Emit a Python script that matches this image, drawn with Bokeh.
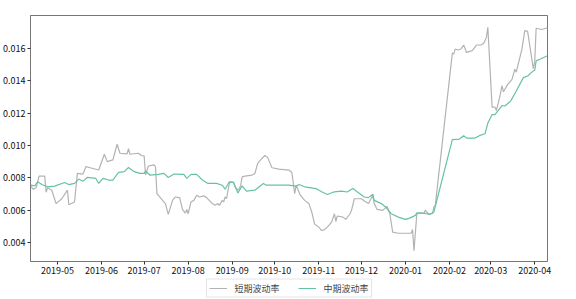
import pandas as pd
from bokeh.plotting import figure
from bokeh.layouts import column
from bokeh.models import (Legend, LegendItem, DatetimeTickFormatter, MonthsTicker,
                          FixedTicker, NumeralTickFormatter, Range1d)
from bokeh.embed import file_html
from bokeh.resources import INLINE

short_dates = [
    "2019-04-12", "2019-04-14", "2019-04-16", "2019-04-18", "2019-04-22", "2019-04-23",
    "2019-04-24", "2019-04-27", "2019-04-30", "2019-05-04", "2019-05-08", "2019-05-09",
    "2019-05-13", "2019-05-15", "2019-05-19", "2019-05-21", "2019-05-24", "2019-05-30",
    "2019-06-03", "2019-06-05", "2019-06-09", "2019-06-12", "2019-06-14", "2019-06-19",
    "2019-06-20", "2019-06-21", "2019-06-27", "2019-06-29", "2019-07-01", "2019-07-02",
    "2019-07-04", "2019-07-08", "2019-07-09", "2019-07-10", "2019-07-14", "2019-07-16",
    "2019-07-18", "2019-07-21", "2019-07-23", "2019-07-26", "2019-07-28", "2019-07-30",
    "2019-07-31", "2019-08-01", "2019-08-03", "2019-08-05", "2019-08-07", "2019-08-09",
    "2019-08-12", "2019-08-14", "2019-08-18", "2019-08-20", "2019-08-22", "2019-08-23",
    "2019-08-25", "2019-08-26", "2019-08-27", "2019-08-28", "2019-08-30", "2019-08-31",
    "2019-09-02", "2019-09-03", "2019-09-05", "2019-09-06", "2019-09-07", "2019-09-08",
    "2019-09-10", "2019-09-15", "2019-09-17", "2019-09-19", "2019-09-21", "2019-09-24",
    "2019-09-26", "2019-09-29", "2019-10-04", "2019-10-11", "2019-10-13", "2019-10-15",
    "2019-10-16", "2019-10-19", "2019-10-22", "2019-10-25", "2019-10-27", "2019-10-29",
    "2019-11-01", "2019-11-03", "2019-11-05", "2019-11-07", "2019-11-10", "2019-11-12",
    "2019-11-13", "2019-11-14", "2019-11-18", "2019-11-20", "2019-11-23", "2019-11-24",
    "2019-11-26", "2019-12-01", "2019-12-03", "2019-12-06", "2019-12-09", "2019-12-10",
    "2019-12-12", "2019-12-16", "2019-12-19", "2019-12-21", "2019-12-23", "2019-12-27",
    "2020-01-05", "2020-01-06", "2020-01-07", "2020-01-09", "2020-01-14", "2020-01-15",
    "2020-01-17", "2020-01-20", "2020-01-21", "2020-01-22", "2020-02-03", "2020-02-04",
    "2020-02-05", "2020-02-07", "2020-02-09", "2020-02-11", "2020-02-13", "2020-02-17",
    "2020-02-20", "2020-02-23", "2020-02-25", "2020-02-27", "2020-02-28", "2020-03-02",
    "2020-03-04", "2020-03-05", "2020-03-07", "2020-03-09", "2020-03-10", "2020-03-13",
    "2020-03-16", "2020-03-18", "2020-03-19", "2020-03-23", "2020-03-25", "2020-03-27",
    "2020-03-31", "2020-04-01", "2020-04-02", "2020-04-06", "2020-04-10",
]
short_vol = [
    0.00748, 0.00729, 0.00738, 0.00810, 0.00810, 0.00710,
    0.00738, 0.00723, 0.00640, 0.00670, 0.00723, 0.00633,
    0.00650, 0.00827, 0.00823, 0.00869, 0.00862, 0.00848,
    0.00946, 0.00900, 0.00911, 0.01008, 0.00952, 0.00948,
    0.00980, 0.00946, 0.00952, 0.00938, 0.00936, 0.00817,
    0.00873, 0.00880, 0.00869, 0.00702, 0.00660, 0.00640,
    0.00573, 0.00660, 0.00681, 0.00677, 0.00604, 0.00581,
    0.00604, 0.00577, 0.00650, 0.00660, 0.00692, 0.00681,
    0.00688, 0.00677, 0.00640, 0.00629, 0.00640, 0.00629,
    0.00660, 0.00650, 0.00681, 0.00670, 0.00765, 0.00775,
    0.00771, 0.00744, 0.00723, 0.00733, 0.00754, 0.00806,
    0.00810, 0.00817, 0.00827, 0.00890, 0.00911, 0.00938,
    0.00925, 0.00862, 0.00854, 0.00848, 0.00833, 0.00702,
    0.00754, 0.00692, 0.00660, 0.00640, 0.00588, 0.00514,
    0.00494, 0.00473, 0.00479, 0.00494, 0.00525, 0.00577,
    0.00529, 0.00563, 0.00556, 0.00542, 0.00577, 0.00598,
    0.00670, 0.00670, 0.00656, 0.00640, 0.00692, 0.00640,
    0.00604, 0.00598, 0.00623, 0.00577, 0.00463, 0.00456,
    0.00456, 0.00479, 0.00348, 0.00577, 0.00581, 0.00598,
    0.00577, 0.00577, 0.00619, 0.00629, 0.01573, 0.01567,
    0.01598, 0.01592, 0.01598, 0.01623, 0.01577, 0.01588,
    0.01623, 0.01623, 0.01633, 0.01670, 0.01733, 0.01238,
    0.01238, 0.01217, 0.01286, 0.01371, 0.01333, 0.01379,
    0.01410, 0.01473, 0.01455, 0.01598, 0.01712, 0.01708,
    0.01477, 0.01520, 0.01727, 0.01719, 0.01730,
]

mid_dates = [
    "2019-04-12", "2019-04-15", "2019-04-17", "2019-04-20", "2019-04-24", "2019-04-29",
    "2019-05-06", "2019-05-09", "2019-05-13", "2019-05-16", "2019-05-19", "2019-05-22",
    "2019-05-28", "2019-05-30", "2019-06-02", "2019-06-06", "2019-06-09", "2019-06-13",
    "2019-06-17", "2019-06-20", "2019-06-24", "2019-06-28", "2019-07-01", "2019-07-02",
    "2019-07-05", "2019-07-11", "2019-07-15", "2019-07-18", "2019-07-22", "2019-07-29",
    "2019-07-31", "2019-08-03", "2019-08-07", "2019-08-11", "2019-08-15", "2019-08-21",
    "2019-08-25", "2019-08-27", "2019-08-30", "2019-09-02", "2019-09-05", "2019-09-08",
    "2019-09-11", "2019-09-17", "2019-09-20", "2019-09-23", "2019-09-25", "2019-09-30",
    "2019-10-11", "2019-10-16", "2019-10-18", "2019-10-22", "2019-10-30", "2019-11-03",
    "2019-11-07", "2019-11-12", "2019-11-17", "2019-11-21", "2019-11-25", "2019-11-28",
    "2019-12-03", "2019-12-06", "2019-12-09", "2019-12-10", "2019-12-15", "2019-12-18",
    "2019-12-22", "2019-12-27", "2020-01-01", "2020-01-04", "2020-01-08", "2020-01-09",
    "2020-01-12", "2020-01-16", "2020-01-18", "2020-01-21", "2020-02-03", "2020-02-08",
    "2020-02-11", "2020-02-13", "2020-02-19", "2020-02-22", "2020-02-26", "2020-02-28",
    "2020-03-02", "2020-03-04", "2020-03-09", "2020-03-11", "2020-03-15", "2020-03-19",
    "2020-03-24", "2020-03-27", "2020-03-31", "2020-04-01", "2020-04-02", "2020-04-05",
    "2020-04-10",
]
mid_vol = [
    0.00754, 0.00750, 0.00775, 0.00758, 0.00744, 0.00748,
    0.00771, 0.00758, 0.00765, 0.00792, 0.00779, 0.00802,
    0.00796, 0.00765, 0.00796, 0.00786, 0.00786, 0.00833,
    0.00838, 0.00864, 0.00838, 0.00827, 0.00827, 0.00842,
    0.00817, 0.00821, 0.00827, 0.00802, 0.00823, 0.00821,
    0.00796, 0.00821, 0.00821, 0.00786, 0.00765, 0.00765,
    0.00754, 0.00729, 0.00775, 0.00771, 0.00706, 0.00750,
    0.00717, 0.00723, 0.00744, 0.00765, 0.00754, 0.00754,
    0.00754, 0.00748, 0.00758, 0.00744, 0.00733, 0.00713,
    0.00696, 0.00713, 0.00717, 0.00712, 0.00733, 0.00713,
    0.00681, 0.00677, 0.00698, 0.00660, 0.00640, 0.00619,
    0.00577, 0.00556, 0.00542, 0.00550, 0.00567, 0.00583,
    0.00583, 0.00577, 0.00573, 0.00588, 0.01036, 0.01040,
    0.01061, 0.01046, 0.01046, 0.01061, 0.01073, 0.01139,
    0.01192, 0.01192, 0.01248, 0.01245, 0.01275, 0.01338,
    0.01421, 0.01431, 0.01463, 0.01465, 0.01525, 0.01536,
    0.01556,
]

y_ticks = [0.004, 0.006, 0.008, 0.010, 0.012, 0.014, 0.016]
labels = ["短期波动率", "中期波动率"]
colors = ["#b3b3b3", "#66c2a5"]

sd = pd.to_datetime(short_dates)
md = pd.to_datetime(mid_dates)
x_rng = (pd.Timestamp("2019-04-12"), pd.Timestamp("2020-04-10"))

p = figure(width=576, height=276, x_axis_type="datetime", output_backend="svg",
           toolbar_location=None,
           x_range=Range1d(*x_rng),
           y_range=Range1d(0.00281, 0.01806),
           min_border_left=30, min_border_right=29, min_border_top=15, min_border_bottom=15)
p.background_fill_color = "white"
p.border_fill_color = "white"
p.outline_line_color = "#777777"
p.outline_line_width = 1
p.xgrid.visible = False
p.ygrid.visible = False

p.line(sd, short_vol, line_color=colors[0], line_width=1.2)
p.line(md, mid_vol, line_color=colors[1], line_width=1.2)

font = "Noto Sans CJK SC"
for ax in (p.xaxis[0], p.yaxis[0]):
    ax.axis_line_color = "#777777"
    ax.major_tick_line_color = "#333333"
    ax.minor_tick_line_color = None
    ax.major_tick_out = 3
    ax.major_tick_in = 0
    ax.major_label_standoff = 2
    ax.major_label_text_font = font
    ax.major_label_text_font_size = "9px"
    ax.major_label_text_color = "#111111"

p.xaxis[0].ticker = MonthsTicker(months=list(range(1, 13)))
p.xaxis[0].formatter = DatetimeTickFormatter(months="%Y-%m", days="%Y-%m", years="%Y-%m")
p.yaxis[0].ticker = FixedTicker(ticks=y_ticks)
p.yaxis[0].formatter = NumeralTickFormatter(format="0.000")

# legend strip below the chart (its lines lie outside its visible y range)
lg = figure(width=576, height=23, x_axis_type="datetime", output_backend="svg",
            toolbar_location=None, x_axis_location=None, y_axis_location=None,
            x_range=Range1d(*x_rng), y_range=Range1d(0.0, 0.001),
            min_border_left=0, min_border_right=0, min_border_top=0, min_border_bottom=0)
lg.outline_line_color = None
lg.xgrid.visible = False
lg.ygrid.visible = False
lr1 = lg.line(sd, short_vol, line_color=colors[0], line_width=1.2)
lr2 = lg.line(md, mid_vol, line_color=colors[1], line_width=1.2)
legend = Legend(items=[LegendItem(label=labels[0], renderers=[lr1]),
                       LegendItem(label=labels[1], renderers=[lr2])],
                orientation="horizontal", location="center",
                label_text_font=font, label_text_font_size="9px",
                label_height=9, glyph_width=18, glyph_height=9,
                label_standoff=8, spacing=18,
                padding=2, margin=0, border_line_color="#cccccc",
                border_line_width=1, background_fill_alpha=1)
lg.add_layout(legend, "center")

open("out.html", "w").write(file_html(column(p, lg, spacing=0), INLINE))
